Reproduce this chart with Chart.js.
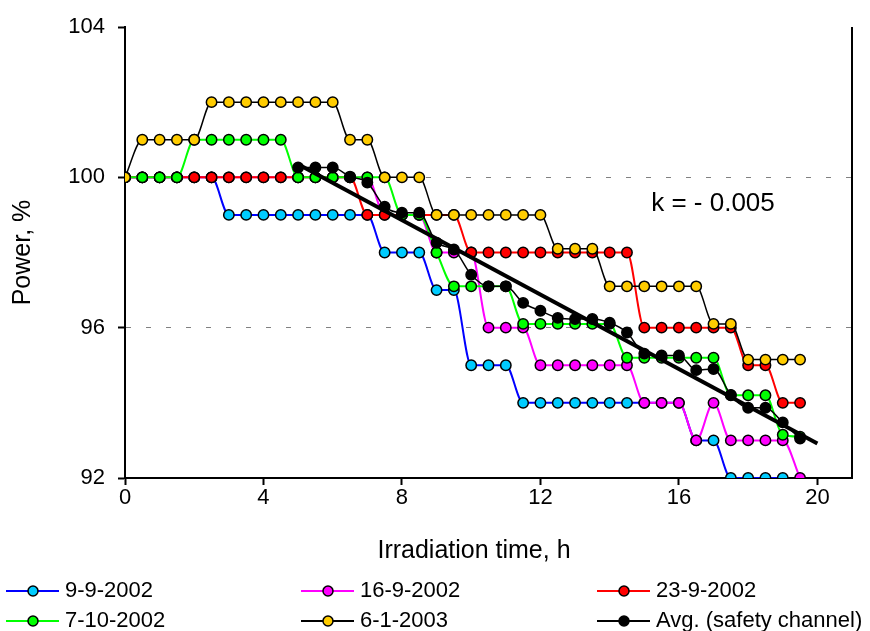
<!DOCTYPE html>
<html><head><meta charset="utf-8">
<script src="https://cdn.jsdelivr.net/npm/chart.js@4/dist/chart.umd.min.js"></script>
<style>html,body{margin:0;padding:0;background:#fff;}canvas{display:block;}</style>
</head><body>
<canvas id="c" width="870" height="631"></canvas>
<script>
// ---- data ----
const times = [0,0.5,1,1.5,2,2.5,3,3.5,4,4.5,5,5.5,6,6.5,7,7.5,8,8.5,9,9.5,10,10.5,11,11.5,12,12.5,13,13.5,14,14.5,15,15.5,16,16.5,17,17.5,18,18.5,19,19.5];
const avgTimes = [5,5.5,6,6.5,7,7.5,8,8.5,9,9.5,10,10.5,11,11.5,12,12.5,13,13.5,14,14.5,15,15.5,16,16.5,17,17.5,18,18.5,19,19.5];
const run_9_9_2002  = [100,100,100,100,100,100,99,99,99,99,99,99,99,99,99,98,98,98,97,97,95,95,95,94,94,94,94,94,94,94,94,94,94,93,93,92,92,92,92,91.5];
const run_16_9_2002 = [100,100,100,100,100,100,100,100,100,100,100,100,100,100,100,99,99,99,98,98,98,96,96,96,95,95,95,95,95,95,94,94,94,93,94,93,93,93,93,92];
const run_23_9_2002 = [100,100,100,100,100,100,100,100,100,100,100,100,100,100,99,99,99,99,99,99,98,98,98,98,98,98,98,98,98,98,96,96,96,96,96,96,95,95,94,94];
const run_7_10_2002 = [100,100,100,100,101,101,101,101,101,101,100,100,100,100,100,100,99,99,98,97.1,97.1,97.1,97.1,96.1,96.1,96.1,96.1,96.1,96.1,95.2,95.2,95.2,95.2,95.2,95.2,94.2,94.2,94.2,93.15,93.1];
const run_6_1_2003  = [100,101,101,101,101,102,102,102,102,102,102,102,102,101,101,100,100,100,99,99,99,99,99,99,99,98.1,98.1,98.1,97.1,97.1,97.1,97.1,97.1,97.1,96.1,96.1,95.15,95.15,95.15,95.15];
const avgSafety     = [100.26,100.26,100.26,100.02,99.86,99.22,99.06,99.06,98.26,98.08,97.41,97.1,97.1,96.66,96.45,96.26,96.23,96.23,96.13,95.87,95.31,95.26,95.26,94.87,94.9,94.21,93.87,93.87,93.48,93.05];
const trendTimes = [5,20];
const trendValues = [100.35,92.92];
const seriesLabels = ['9-9-2002','16-9-2002','23-9-2002','7-10-2002','6-1-2003','Avg. (safety channel)'];
const xTicks = [0,4,8,12,16,20];
const yTicks = [92,96,100,104];
const yGrid = [96,100];
const xTitle = 'Irradiation time, h';
const yTitle = 'Power, %';
const slopeText = 'k = - 0.005';
const slopeAt = [15.2, 99.1];

const FONT = '"Liberation Sans", Arial, sans-serif';
const pts = (xs, ys) => xs.map((x, i) => ({x, y: ys[i]}));

function ds(label, data, line, fill, width, order) {
  return {label, data, borderColor: line, backgroundColor: fill, pointBackgroundColor: fill,
    pointBorderColor: '#000', pointBorderWidth: 1.5, pointRadius: 5.2, pointHoverRadius: 5.2,
    borderWidth: width, cubicInterpolationMode: 'monotone', order, fill: false};
}

const datasets = [
  ds(seriesLabels[0], pts(times, run_9_9_2002), '#0000FF', '#00CCFF', 2, 7),
  ds(seriesLabels[1], pts(times, run_16_9_2002), '#FF00FF', '#FF00FF', 2, 6),
  ds(seriesLabels[2], pts(times, run_23_9_2002), '#FF0000', '#FF0000', 2, 5),
  ds(seriesLabels[3], pts(times, run_7_10_2002), '#00FF00', '#00FF00', 2, 4),
  ds(seriesLabels[4], pts(times, run_6_1_2003), '#000000', '#FFCC00', 1.5, 3),
  ds(seriesLabels[5], pts(avgTimes, avgSafety), '#000000', '#000000', 1.5, 2),
  {label: 'trend', data: pts(trendTimes, trendValues), borderColor: '#000', borderWidth: 4,
   pointRadius: 0, pointHoverRadius: 0, order: 1, fill: false, tension: 0}
];

const extras = {
  id: 'extras',
  afterDatasetsDraw(chart) {
    const {ctx, chartArea, scales} = chart;
    ctx.save();
    // right frame line
    ctx.strokeStyle = '#000'; ctx.lineWidth = 2;
    ctx.beginPath(); ctx.moveTo(chartArea.right, chartArea.top); ctx.lineTo(chartArea.right, chartArea.bottom + 1); ctx.stroke();
    // slope annotation
    ctx.fillStyle = '#000'; ctx.font = '26px ' + FONT; ctx.textAlign = 'left'; ctx.textBaseline = 'alphabetic';
    ctx.fillText(slopeText, scales.x.getPixelForValue(slopeAt[0]), scales.y.getPixelForValue(slopeAt[1]));
    ctx.restore();
  },
  afterDraw(chart) {
    const {ctx} = chart;
    ctx.save();
    // x axis title
    ctx.fillStyle = '#000'; ctx.font = '25px ' + FONT; ctx.textAlign = 'center'; ctx.textBaseline = 'middle';
    ctx.fillText(xTitle, 474, 551);
    // legend
    const cols = [6, 301, 597], rows = [591, 621];
    ctx.font = '22px ' + FONT; ctx.textBaseline = 'middle'; ctx.textAlign = 'left';
    chart.data.datasets.slice(0, 6).forEach((d, i) => {
      const x = cols[i % 3], y = rows[Math.floor(i / 3)];
      ctx.strokeStyle = d.borderColor; ctx.lineWidth = 2;
      ctx.beginPath(); ctx.moveTo(x, y); ctx.lineTo(x + 53, y); ctx.stroke();
      ctx.beginPath(); ctx.arc(x + 27, y, 5, 0, Math.PI * 2);
      ctx.fillStyle = d.pointBackgroundColor; ctx.fill();
      ctx.lineWidth = 1.5; ctx.strokeStyle = '#000'; ctx.stroke();
      ctx.fillStyle = '#000';
      ctx.fillText(d.label, x + 59, y);
    });
    ctx.restore();
  }
};

new Chart(document.getElementById('c'), {
  type: 'line',
  data: {datasets},
  options: {
    responsive: false, animation: false, devicePixelRatio: 1,
    layout: {padding: {left: 0, top: 27, right: 18, bottom: 0}},
    plugins: {legend: {display: false}, tooltip: {enabled: false}},
    scales: {
      x: {
        type: 'linear', min: 0, max: 21,
        afterBuildTicks: s => { s.ticks = xTicks.map(v => ({value: v})); },
        afterFit: s => { s.height = 153; },
        ticks: {color: '#000', font: {size: 22, family: FONT}, padding: 0, maxRotation: 0, includeBounds: false},
        grid: {drawOnChartArea: false, tickColor: '#000', tickLength: 7, tickWidth: 2},
        border: {display: true, color: '#000', width: 2},
        title: {display: false}
      },
      y: {
        type: 'linear', min: 92, max: 104,
        afterBuildTicks: s => { s.ticks = yTicks.map(v => ({value: v})); },
        afterFit: s => { s.width = 125; },
        ticks: {color: '#000', font: {size: 22, family: FONT}, padding: 13},
        grid: {color: c => (c.tick && yGrid.includes(c.tick.value)) ? '#808080' : 'rgba(0,0,0,0)',
               lineWidth: 1, tickColor: '#000', tickLength: 7, tickWidth: 2, tickBorderDash: []},
        border: {display: true, color: '#000', width: 2, dash: [5, 15]},
        title: {display: true, text: yTitle, color: '#000', font: {size: 25, family: FONT}, padding: {top: 8, bottom: 0}}
      }
    }
  },
  plugins: [extras]
});
</script>
</body></html>
